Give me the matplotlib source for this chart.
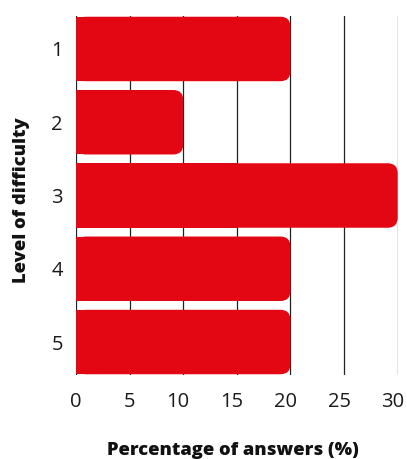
import matplotlib
matplotlib.use("Agg")
import matplotlib.pyplot as plt
import matplotlib.transforms as mtransforms
from matplotlib.patches import FancyBboxPatch

levels = ["1", "2", "3", "4", "5"]
percentages = [20, 10, 30, 20, 20]
x_ticks = [0, 5, 10, 15, 20, 25, 30]

plt.rcParams['font.family'] = ['Open Sans', 'DejaVu Sans']

fig = plt.figure(figsize=(4.07, 4.59), dpi=100)
ax = fig.add_axes([76/407, 84/459, (397.7-76)/407, (443-84)/459])

red = '#e30613'
bar_h = 0.88
ax.set_xlim(0, 30)
ax.set_ylim(len(levels) - 1 + bar_h/2 + 0.01, -bar_h/2 - 0.01)

# rounding radius in pixels -> data units
ax_w_px = 397.7 - 76
ax_h_px = 443 - 84
rx = 10 * 30 / ax_w_px
ry = 10 * (len(levels) - 1 + bar_h + 0.02) / ax_h_px

ys = list(range(len(levels)))
# square left part via barh
ax.barh(ys, [v / 2 for v in percentages], height=bar_h, color=red, zorder=3, linewidth=0)
for y, v in zip(ys, percentages):
    p = FancyBboxPatch((0, y - bar_h/2), v, bar_h,
                       boxstyle=f"round,pad=0,rounding_size={rx}",
                       mutation_aspect=ry/rx, facecolor=red, edgecolor='none', zorder=3)
    ax.add_patch(p)

ax.set_xticks(x_ticks)
ax.set_xticklabels([str(t) for t in x_ticks])
ax.set_yticks(ys)
ax.set_yticklabels(levels)
ax.tick_params(axis='both', length=0, labelsize=14.5, colors='#1a1a1a')
ax.tick_params(axis='x', pad=12.5)
ax.tick_params(axis='y', pad=9.5)

# two-digit x labels sit slightly left of their gridline in the reference
for lbl in ax.get_xticklabels():
    if len(lbl.get_text()) > 1:
        lbl.set_transform(lbl.get_transform() +
                          mtransforms.ScaledTranslation(-5/100, 0, fig.dpi_scale_trans))

ax.grid(axis='x', color='#222222', linewidth=0.9, zorder=1)
ax.set_axisbelow(True)
for s in ax.spines.values():
    s.set_visible(False)

ax.set_xlabel("Percentage of answers (%)", fontsize=13.2, fontweight='heavy', color='#111111')
ax.set_ylabel("Level of difficulty", fontsize=13.2, fontweight='heavy', color='#111111')
ax.xaxis.set_label_coords((232.5 - 76) / ax_w_px, (375 - 442) / ax_h_px)
ax.yaxis.set_label_coords((30 - 76) / ax_w_px, (375 - 200) / ax_h_px)

fig.savefig("out.png", dpi=100)
